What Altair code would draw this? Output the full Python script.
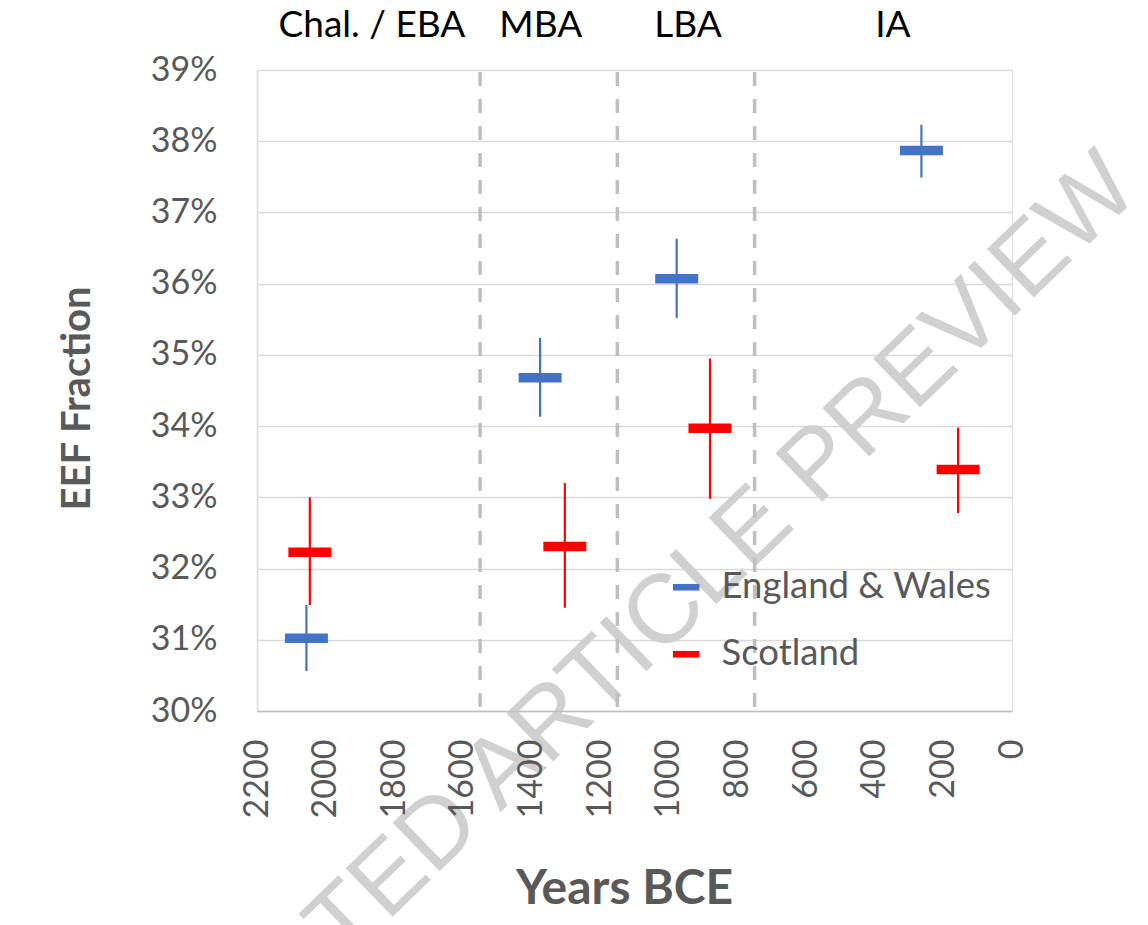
import altair as alt
import pandas as pd

# ---- data ----
series_names = ["England & Wales", "Scotland"]
england_years = [2056, 1375, 977, 264]
england_mid = [0.3102, 0.3468, 0.3607, 0.3787]
england_lo = [0.3056, 0.3413, 0.3552, 0.3749]
england_hi = [0.3149, 0.3524, 0.3663, 0.3823]

scotland_years = [2046, 1303, 880, 157]
scotland_mid = [0.3223, 0.3231, 0.3397, 0.3339]
scotland_lo = [0.3149, 0.3145, 0.3298, 0.3278]
scotland_hi = [0.3300, 0.3320, 0.3495, 0.3398]

boundary_years = [1550, 1150, 750]
period_names = ["Chal. / EBA", "MBA", "LBA", "IA"]
period_label_years = [1865, 1373, 944, 347]
x_ticks = list(range(0, 2201, 200))
y_ticks = [0.30, 0.31, 0.32, 0.33, 0.34, 0.35, 0.36, 0.37, 0.38, 0.39]
watermark = ["ACCEPTED ARTICLE PREVIEW"]

rows = []
for i in range(4):
    rows.append({"series": series_names[0], "year": england_years[i], "mid": england_mid[i],
                 "lo": england_lo[i], "hi": england_hi[i]})
for i in range(4):
    rows.append({"series": series_names[1], "year": scotland_years[i], "mid": scotland_mid[i],
                 "lo": scotland_lo[i], "hi": scotland_hi[i]})
df = pd.DataFrame(rows)
bounds = pd.DataFrame({"year": boundary_years})
periods = pd.DataFrame({"name": period_names, "year": period_label_years})
wm = pd.DataFrame({"t": watermark})

W, H = 755, 641
FONT = "Lato"
GREY = "#595959"

xscale = alt.Scale(domain=[0, 2200], reverse=True, nice=False, zero=False)
yscale = alt.Scale(domain=[0.30, 0.39], nice=False, zero=False)
color_scale = alt.Scale(domain=series_names, range=["#4472C4", "#FF0000"])

legend_def = alt.Legend(
    title=None, orient="none", legendX=411, legendY=499,
    symbolType="M-1,-0.25H1V0.25H-1Z", symbolSize=700, symbolStrokeWidth=0,
    labelFont=FONT, labelFontSize=36.5, labelColor=GREY, labelOffset=17,
    rowPadding=30, labelLimit=400)

x_enc = alt.X("year:Q", scale=xscale, axis=alt.Axis(
    values=x_ticks, format="d", labelAngle=-90, labelFontSize=34, labelFont=FONT,
    labelColor=GREY, ticks=False, labelPadding=28, grid=False, domainColor="#BFBFBF",
    domainWidth=1.5, title="Years BCE", titleFont=FONT, titleFontSize=48,
    titleFontWeight="bold", titleColor=GREY, titleX=367, titleY=178,
    titleBaseline="middle", titleAlign="center", labelFlush=False, labelOverlap=False,
    zindex=1))
y_axis = alt.Axis(
    values=y_ticks, format=".0%", labelFontSize=34, labelFont=FONT, labelColor=GREY,
    ticks=False, labelPadding=40, grid=True, gridColor="#D9D9D9", gridWidth=1.3,
    domainColor="#D9D9D9", domainWidth=1.5,
    title="EEF Fraction", titleFont=FONT, titleFontSize=40, titleFontWeight="bold",
    titleColor=GREY, titleX=-180, titleY=328, titleAngle=-90, titleBaseline="middle",
    titleAlign="center", labelFlush=False, zindex=0)

wm_layer = alt.Chart(wm).mark_text(
    font="Liberation Sans", fontSize=98, color="#D0D0D0", angle=316, align="center",
    baseline="middle", clip=False
).encode(text="t:N", x=alt.value(344), y=alt.value(605))

grid_base = alt.Chart(df).mark_point(opacity=0).encode(
    x=x_enc, y=alt.Y("mid:Q", scale=yscale, axis=y_axis))

bound_layer = alt.Chart(bounds).mark_rule(
    color="#BFBFBF", strokeWidth=3.5, strokeDash=[14, 13]
).encode(x=alt.X("year:Q", scale=xscale), y=alt.value(2), y2=alt.value(H))

err_layer = alt.Chart(df).mark_rule(strokeWidth=2.2, opacity=1).encode(
    x=alt.X("year:Q", scale=xscale),
    y=alt.Y("lo:Q", scale=yscale),
    y2="hi:Q",
    color=alt.Color("series:N", scale=color_scale, legend=legend_def))

mid_layer = alt.Chart(df).mark_tick(orient="horizontal", size=43, thickness=9.5,
                                    opacity=1).encode(
    x=alt.X("year:Q", scale=xscale),
    y=alt.Y("mid:Q", scale=yscale),
    color=alt.Color("series:N", scale=color_scale, legend=legend_def))

period_layer = alt.Chart(periods).mark_text(
    font=FONT, fontSize=37, color="#000000", align="center", baseline="middle"
).encode(x=alt.X("year:Q", scale=xscale), y=alt.value(-44), text="name:N")

chart = alt.layer(
    grid_base, wm_layer, bound_layer, err_layer, mid_layer, period_layer
).properties(
    width=W, height=H,
    autosize=alt.AutoSizeParams(type="none"),
    padding={"left": 249, "top": 62, "right": 125, "bottom": 214},
).configure_view(stroke=None).configure(background="white")

chart.save("out.html", embed_options={"renderer": "svg", "actions": False})
